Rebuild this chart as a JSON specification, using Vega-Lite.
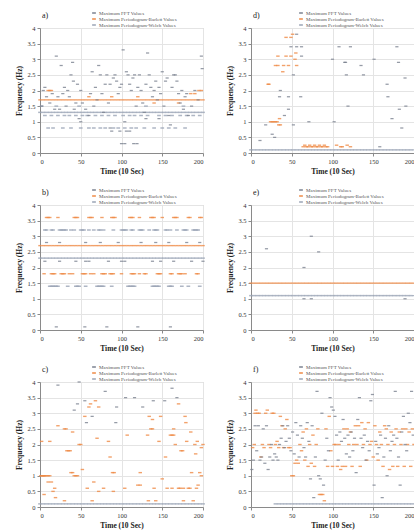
{
"$schema":"https://vega.github.io/schema/vega-lite/v6.json",
"padding":{"left":15,"top":9,"right":0,"bottom":0},
"background":"white",
"columns":2,
"bounds":"flush",
"spacing":{"column":48,"row":52},
"resolve":{"legend":{"color":"independent"}},
"config":{"font":"Liberation Serif","view":{"stroke":"#c4c4c4"},
"axis":{"labelFontSize":6.5,"titleFontSize":7.5,"titleFontWeight":"bold","gridColor":"#e4e4e4","domainColor":"#8a8a8a","tickColor":"#8a8a8a","labelColor":"#333333","titleColor":"#222222","tickSize":3,"labelPadding":2,"titlePadding":3},
"title":{"fontSize":8,"fontWeight":"normal","anchor":"start","frame":"group","offset":0,"dy":14,"dx":2,"color":"#222222"},
"legend":{"labelFontSize":5,"symbolSize":14,"rowPadding":0,"padding":0,"labelLimit":200,"labelColor":"#555555","symbolOpacity":1,"labelOffset":2}},
"data":{"format":{"type":"csv","parse":{"t":"number","f":"number"}},"values":"p,s,t,f\na,W,0,1.3\na,W,4,1.3\na,W,8,1.3\na,W,12,1.3\na,W,16,1.3\na,W,20,1.3\na,W,24,1.3\na,W,28,1.3\na,W,32,1.3\na,W,36,1.3\na,W,40,1.3\na,W,44,1.3\na,W,48,1.3\na,W,52,1.3\na,W,56,1.3\na,W,60,1.3\na,W,64,1.3\na,W,68,1.3\na,W,72,1.3\na,W,76,1.3\na,W,80,1.3\na,W,84,1.3\na,W,88,1.3\na,W,92,1.3\na,W,96,1.3\na,W,100,1.3\na,W,104,1.3\na,W,108,1.3\na,W,112,1.3\na,W,116,1.3\na,W,120,1.3\na,W,124,1.3\na,W,128,1.3\na,W,132,1.3\na,W,136,1.3\na,W,140,1.3\na,W,144,1.3\na,W,148,1.3\na,W,152,1.3\na,W,156,1.3\na,W,160,1.3\na,W,164,1.3\na,W,168,1.3\na,W,172,1.3\na,W,176,1.3\na,W,180,1.3\na,W,184,1.3\na,W,188,1.3\na,W,192,1.3\na,W,196,1.3\na,W,200,1.3\na,W,6,1.2\na,W,14,1.2\na,W,22,1.2\na,W,30,1.2\na,W,36,1.2\na,W,44,1.2\na,W,52,1.2\na,W,58,1.2\na,W,68,1.2\na,W,76,1.2\na,W,84,1.2\na,W,92,1.2\na,W,102,1.2\na,W,110,1.2\na,W,116,1.2\na,W,124,1.2\na,W,132,1.2\na,W,146,1.2\na,W,154,1.2\na,W,162,1.2\na,W,172,1.2\na,W,180,1.2\na,W,188,1.2\na,W,196,1.2\na,W,10,0.8\na,W,16,0.8\na,W,28,0.8\na,W,38,0.8\na,W,50,0.8\na,W,60,0.8\na,W,66,0.8\na,W,74,0.8\na,W,80,0.8\na,W,90,0.8\na,W,96,0.8\na,W,104,0.8\na,W,112,0.8\na,W,118,0.8\na,W,128,0.8\na,W,140,0.8\na,W,150,0.8\na,W,158,0.8\na,W,166,0.8\na,W,178,0.8\na,W,2,1.5\na,W,20,1.5\na,W,48,1.5\na,W,130,1.5\na,W,176,1.5\na,B,0,1.7\na,B,4,1.7\na,B,8,1.7\na,B,12,1.7\na,B,16,1.7\na,B,20,1.7\na,B,24,1.7\na,B,28,1.7\na,B,32,1.7\na,B,36,1.7\na,B,40,1.7\na,B,44,1.7\na,B,48,1.7\na,B,52,1.7\na,B,56,1.7\na,B,60,1.7\na,B,64,1.7\na,B,68,1.7\na,B,72,1.7\na,B,76,1.7\na,B,80,1.7\na,B,84,1.7\na,B,88,1.7\na,B,92,1.7\na,B,96,1.7\na,B,100,1.7\na,B,104,1.7\na,B,108,1.7\na,B,112,1.7\na,B,116,1.7\na,B,120,1.7\na,B,124,1.7\na,B,128,1.7\na,B,132,1.7\na,B,136,1.7\na,B,140,1.7\na,B,144,1.7\na,B,148,1.7\na,B,152,1.7\na,B,156,1.7\na,B,160,1.7\na,B,164,1.7\na,B,168,1.7\na,B,172,1.7\na,B,176,1.7\na,B,180,1.7\na,B,184,1.7\na,B,188,1.7\na,B,192,1.7\na,B,196,1.7\na,B,200,1.7\na,B,10,2.0\na,B,12,2.0\na,B,14,2.0\na,B,185,1.9\na,B,190,1.9\na,B,195,2.0\na,B,198,2.0\na,B,60,1.8\na,B,88,1.8\na,B,120,1.8\na,B,140,1.6\na,B,170,1.6\na,F,2,1.5\na,F,4,2.0\na,F,6,2.1\na,F,8,1.8\na,F,12,1.6\na,F,15,1.9\na,F,18,1.4\na,F,20,3.1\na,F,22,1.8\na,F,24,1.4\na,F,26,2.8\na,F,28,1.9\na,F,30,2.1\na,F,32,1.5\na,F,34,2.0\na,F,36,1.8\na,F,38,2.5\na,F,40,2.9\na,F,41,2.3\na,F,42,1.4\na,F,44,1.6\na,F,46,2.2\na,F,48,1.1\na,F,50,2.0\na,F,52,1.6\na,F,56,1.4\na,F,60,1.2\na,F,62,1.9\na,F,64,2.6\na,F,66,1.5\na,F,68,2.1\na,F,70,1.7\na,F,72,2.8\na,F,74,2.5\na,F,76,1.9\na,F,78,1.3\na,F,80,2.2\na,F,82,2.5\na,F,84,1.6\na,F,86,2.2\na,F,88,0.7\na,F,90,2.4\na,F,92,2.5\na,F,94,2.3\na,F,96,1.9\na,F,98,2.1\na,F,100,2.2\na,F,102,3.3\na,F,104,1.0\na,F,106,2.6\na,F,108,2.5\na,F,110,2.2\na,F,112,2.0\na,F,114,2.4\na,F,116,2.5\na,F,118,1.5\na,F,120,2.1\na,F,122,2.5\na,F,124,2.0\na,F,126,1.6\na,F,128,1.3\na,F,130,2.2\na,F,132,3.2\na,F,134,2.5\na,F,136,2.1\na,F,138,1.8\na,F,140,2.0\na,F,142,2.3\na,F,144,1.7\na,F,146,2.1\na,F,148,1.9\na,F,150,2.6\na,F,152,1.5\na,F,154,2.3\na,F,156,2.4\na,F,158,1.2\na,F,160,0.9\na,F,162,2.1\na,F,164,2.5\na,F,166,2.5\na,F,168,2.3\na,F,170,1.9\na,F,172,1.6\na,F,174,2.0\na,F,176,1.4\na,F,178,1.8\na,F,180,1.9\na,F,182,1.2\na,F,186,1.5\na,F,190,2.0\na,F,194,1.7\na,F,198,3.1\na,F,199,2.7\na,F,100,0.3\na,F,104,0.3\na,F,115,0.3\na,F,119,0.3\na,F,98,0.7\na,F,106,0.7\na,F,110,0.7\na,F,86,0.8\na,F,50,1.0\na,F,130,1.1\na,F,146,1.1\nb,W,0,2.3\nb,W,4,2.3\nb,W,8,2.3\nb,W,12,2.3\nb,W,16,2.3\nb,W,20,2.3\nb,W,24,2.3\nb,W,28,2.3\nb,W,32,2.3\nb,W,36,2.3\nb,W,40,2.3\nb,W,44,2.3\nb,W,48,2.3\nb,W,52,2.3\nb,W,56,2.3\nb,W,60,2.3\nb,W,64,2.3\nb,W,68,2.3\nb,W,72,2.3\nb,W,76,2.3\nb,W,80,2.3\nb,W,84,2.3\nb,W,88,2.3\nb,W,92,2.3\nb,W,96,2.3\nb,W,100,2.3\nb,W,104,2.3\nb,W,108,2.3\nb,W,112,2.3\nb,W,116,2.3\nb,W,120,2.3\nb,W,124,2.3\nb,W,128,2.3\nb,W,132,2.3\nb,W,136,2.3\nb,W,140,2.3\nb,W,144,2.3\nb,W,148,2.3\nb,W,152,2.3\nb,W,156,2.3\nb,W,160,2.3\nb,W,164,2.3\nb,W,168,2.3\nb,W,172,2.3\nb,W,176,2.3\nb,W,180,2.3\nb,W,184,2.3\nb,W,188,2.3\nb,W,192,2.3\nb,W,196,2.3\nb,W,200,2.3\nb,W,6,3.2\nb,W,8,3.2\nb,W,14,3.2\nb,W,16,3.2\nb,W,24,3.2\nb,W,26,3.2\nb,W,28,3.2\nb,W,30,3.2\nb,W,32,3.2\nb,W,38,3.2\nb,W,42,3.2\nb,W,50,3.2\nb,W,52,3.2\nb,W,54,3.2\nb,W,60,3.2\nb,W,66,3.2\nb,W,72,3.2\nb,W,74,3.2\nb,W,78,3.2\nb,W,90,3.2\nb,W,100,3.2\nb,W,102,3.2\nb,W,104,3.2\nb,W,106,3.2\nb,W,112,3.2\nb,W,114,3.2\nb,W,122,3.2\nb,W,124,3.2\nb,W,126,3.2\nb,W,134,3.2\nb,W,140,3.2\nb,W,142,3.2\nb,W,144,3.2\nb,W,154,3.2\nb,W,156,3.2\nb,W,160,3.2\nb,W,168,3.2\nb,W,176,3.2\nb,W,178,3.2\nb,W,180,3.2\nb,W,188,3.2\nb,W,190,3.2\nb,W,192,3.2\nb,W,194,3.2\nb,W,12,1.4\nb,W,14,1.4\nb,W,16,1.4\nb,W,18,1.4\nb,W,20,1.4\nb,W,22,1.4\nb,W,34,1.4\nb,W,44,1.4\nb,W,46,1.4\nb,W,48,1.4\nb,W,56,1.4\nb,W,70,1.4\nb,W,72,1.4\nb,W,74,1.4\nb,W,76,1.4\nb,W,78,1.4\nb,W,88,1.4\nb,W,108,1.4\nb,W,110,1.4\nb,W,112,1.4\nb,W,114,1.4\nb,W,116,1.4\nb,W,138,1.4\nb,W,140,1.4\nb,W,142,1.4\nb,W,144,1.4\nb,W,146,1.4\nb,W,158,1.4\nb,W,160,1.4\nb,W,162,1.4\nb,W,174,1.4\nb,W,182,1.4\nb,W,196,1.4\nb,B,0,2.7\nb,B,4,2.7\nb,B,8,2.7\nb,B,12,2.7\nb,B,16,2.7\nb,B,20,2.7\nb,B,24,2.7\nb,B,28,2.7\nb,B,32,2.7\nb,B,36,2.7\nb,B,40,2.7\nb,B,44,2.7\nb,B,48,2.7\nb,B,52,2.7\nb,B,56,2.7\nb,B,60,2.7\nb,B,64,2.7\nb,B,68,2.7\nb,B,72,2.7\nb,B,76,2.7\nb,B,80,2.7\nb,B,84,2.7\nb,B,88,2.7\nb,B,92,2.7\nb,B,96,2.7\nb,B,100,2.7\nb,B,104,2.7\nb,B,108,2.7\nb,B,112,2.7\nb,B,116,2.7\nb,B,120,2.7\nb,B,124,2.7\nb,B,128,2.7\nb,B,132,2.7\nb,B,136,2.7\nb,B,140,2.7\nb,B,144,2.7\nb,B,148,2.7\nb,B,152,2.7\nb,B,156,2.7\nb,B,160,2.7\nb,B,164,2.7\nb,B,168,2.7\nb,B,172,2.7\nb,B,176,2.7\nb,B,180,2.7\nb,B,184,2.7\nb,B,188,2.7\nb,B,192,2.7\nb,B,196,2.7\nb,B,200,2.7\nb,B,8,3.6\nb,B,10,3.6\nb,B,12,3.6\nb,B,22,3.6\nb,B,42,3.6\nb,B,44,3.6\nb,B,46,3.6\nb,B,60,3.6\nb,B,62,3.6\nb,B,64,3.6\nb,B,76,3.6\nb,B,88,3.6\nb,B,90,3.6\nb,B,92,3.6\nb,B,110,3.6\nb,B,112,3.6\nb,B,114,3.6\nb,B,122,3.6\nb,B,136,3.6\nb,B,138,3.6\nb,B,140,3.6\nb,B,150,3.6\nb,B,164,3.6\nb,B,166,3.6\nb,B,168,3.6\nb,B,182,3.6\nb,B,184,3.6\nb,B,196,3.6\nb,B,198,3.6\nb,B,5,1.8\nb,B,14,1.8\nb,B,16,1.8\nb,B,18,1.8\nb,B,26,1.8\nb,B,28,1.8\nb,B,30,1.8\nb,B,36,1.8\nb,B,40,1.8\nb,B,52,1.8\nb,B,54,1.8\nb,B,56,1.8\nb,B,62,1.8\nb,B,66,1.8\nb,B,76,1.8\nb,B,78,1.8\nb,B,80,1.8\nb,B,86,1.8\nb,B,88,1.8\nb,B,90,1.8\nb,B,100,1.8\nb,B,112,1.8\nb,B,114,1.8\nb,B,116,1.8\nb,B,122,1.8\nb,B,128,1.8\nb,B,130,1.8\nb,B,144,1.8\nb,B,146,1.8\nb,B,148,1.8\nb,B,160,1.8\nb,B,162,1.8\nb,B,170,1.8\nb,B,172,1.8\nb,B,174,1.8\nb,B,178,1.8\nb,B,192,1.8\nb,B,194,1.8\nb,F,8,2.8\nb,F,24,2.8\nb,F,56,2.8\nb,F,74,2.8\nb,F,96,2.8\nb,F,124,2.8\nb,F,142,2.8\nb,F,158,2.8\nb,F,180,2.8\nb,F,196,2.8\nb,F,6,2.2\nb,F,24,2.2\nb,F,44,2.2\nb,F,56,2.2\nb,F,60,2.2\nb,F,84,2.2\nb,F,100,2.2\nb,F,104,2.2\nb,F,138,2.2\nb,F,148,2.2\nb,F,164,2.2\nb,F,186,2.2\nb,F,200,2.2\nb,F,20,0.1\nb,F,55,0.1\nb,F,82,0.1\nb,F,120,0.1\nb,F,160,0.1\nc,W,0,0.1\nc,W,4,0.1\nc,W,8,0.1\nc,W,12,0.1\nc,W,16,0.1\nc,W,20,0.1\nc,W,24,0.1\nc,W,28,0.1\nc,W,32,0.1\nc,W,36,0.1\nc,W,40,0.1\nc,W,44,0.1\nc,W,48,0.1\nc,W,52,0.1\nc,W,56,0.1\nc,W,60,0.1\nc,W,64,0.1\nc,W,68,0.1\nc,W,72,0.1\nc,W,76,0.1\nc,W,80,0.1\nc,W,84,0.1\nc,W,88,0.1\nc,W,92,0.1\nc,W,96,0.1\nc,W,100,0.1\nc,W,104,0.1\nc,W,108,0.1\nc,W,112,0.1\nc,W,116,0.1\nc,W,120,0.1\nc,W,124,0.1\nc,W,128,0.1\nc,W,132,0.1\nc,W,136,0.1\nc,W,140,0.1\nc,W,144,0.1\nc,W,148,0.1\nc,W,152,0.1\nc,W,156,0.1\nc,W,160,0.1\nc,W,164,0.1\nc,W,168,0.1\nc,W,172,0.1\nc,W,176,0.1\nc,W,180,0.1\nc,W,184,0.1\nc,W,188,0.1\nc,W,192,0.1\nc,W,196,0.1\nc,W,200,0.1\nc,B,1,1.0\nc,B,2,1.0\nc,B,3,1.0\nc,B,4,1.0\nc,B,5,1.0\nc,B,6,1.0\nc,B,8,1.0\nc,B,10,1.0\nc,B,12,1.0\nc,B,2,2.1\nc,B,12,2.1\nc,B,5,0.4\nc,B,10,0.8\nc,B,14,0.8\nc,B,16,0.5\nc,B,18,0.6\nc,B,19,0.3\nc,B,22,2.6\nc,B,30,2.5\nc,B,32,2.5\nc,B,33,1.8\nc,B,35,1.8\nc,B,37,1.8\nc,B,30,0.2\nc,B,38,1.1\nc,B,40,1.1\nc,B,42,1.0\nc,B,44,1.0\nc,B,46,1.0\nc,B,40,2.4\nc,B,48,2.0\nc,B,50,2.0\nc,B,52,1.2\nc,B,55,2.9\nc,B,60,3.2\nc,B,62,3.3\nc,B,58,0.6\nc,B,64,0.2\nc,B,66,0.8\nc,B,68,3.4\nc,B,70,2.2\nc,B,72,3.2\nc,B,72,0.5\nc,B,78,0.6\nc,B,84,2.1\nc,B,86,1.6\nc,B,89,1.1\nc,B,91,1.1\nc,B,90,0.5\nc,B,104,0.6\nc,B,107,2.3\nc,B,120,0.7\nc,B,123,0.7\nc,B,123,1.1\nc,B,132,2.3\nc,B,134,2.9\nc,B,133,0.2\nc,B,136,2.5\nc,B,138,2.5\nc,B,138,2.8\nc,B,140,0.6\nc,B,146,2.1\nc,B,148,2.9\nc,B,142,0.2\nc,B,150,0.9\nc,B,154,1.6\nc,B,156,0.6\nc,B,160,2.3\nc,B,162,2.3\nc,B,164,2.3\nc,B,164,2.5\nc,B,162,0.6\nc,B,166,2.0\nc,B,170,3.3\nc,B,170,0.6\nc,B,172,0.6\nc,B,173,1.8\nc,B,175,1.8\nc,B,176,0.6\nc,B,176,0.2\nc,B,178,2.9\nc,B,179,2.7\nc,B,180,2.1\nc,B,182,0.6\nc,B,184,0.6\nc,B,186,1.1\nc,B,185,2.4\nc,B,188,0.2\nc,B,190,2.0\nc,B,191,1.7\nc,B,193,2.1\nc,B,194,0.7\nc,B,192,0.6\nc,B,196,1.1\nc,B,198,1.0\nc,B,198,1.9\nc,B,200,2.0\nc,F,22,3.9\nc,F,48,4.0\nc,F,80,3.7\nc,F,94,3.2\nc,F,105,3.5\nc,F,116,3.5\nc,F,126,3.2\nc,F,162,3.8\nc,F,168,3.5\nc,F,153,3.4\nc,F,64,2.9\nc,F,93,2.7\nc,F,57,2.7\nc,F,139,3.4\nc,F,46,3.3\nc,F,42,3.1\nc,F,55,3.4\nd,W,0,0.1\nd,W,4,0.1\nd,W,8,0.1\nd,W,12,0.1\nd,W,16,0.1\nd,W,20,0.1\nd,W,24,0.1\nd,W,28,0.1\nd,W,32,0.1\nd,W,36,0.1\nd,W,40,0.1\nd,W,44,0.1\nd,W,48,0.1\nd,W,52,0.1\nd,W,56,0.1\nd,W,60,0.1\nd,W,64,0.1\nd,W,68,0.1\nd,W,72,0.1\nd,W,76,0.1\nd,W,80,0.1\nd,W,84,0.1\nd,W,88,0.1\nd,W,92,0.1\nd,W,96,0.1\nd,W,100,0.1\nd,W,104,0.1\nd,W,108,0.1\nd,W,112,0.1\nd,W,116,0.1\nd,W,120,0.1\nd,W,124,0.1\nd,W,128,0.1\nd,W,132,0.1\nd,W,136,0.1\nd,W,140,0.1\nd,W,144,0.1\nd,W,148,0.1\nd,W,152,0.1\nd,W,156,0.1\nd,W,160,0.1\nd,W,164,0.1\nd,W,168,0.1\nd,W,172,0.1\nd,W,176,0.1\nd,W,180,0.1\nd,W,184,0.1\nd,W,188,0.1\nd,W,192,0.1\nd,W,196,0.1\nd,W,200,0.1\nd,B,21,2.2\nd,B,22,2.2\nd,B,24,1.0\nd,B,26,1.0\nd,B,28,1.0\nd,B,30,1.0\nd,B,32,1.0\nd,B,34,0.9\nd,B,30,2.8\nd,B,33,3.1\nd,B,33,2.8\nd,B,35,1.1\nd,B,36,0.9\nd,B,39,2.6\nd,B,40,2.8\nd,B,43,3.7\nd,B,43,3.1\nd,B,46,2.8\nd,B,49,3.7\nd,B,49,3.1\nd,B,51,3.8\nd,B,54,3.0\nd,B,55,3.2\nd,B,56,2.8\nd,B,64,0.2\nd,B,66,0.25\nd,B,68,0.2\nd,B,70,0.2\nd,B,72,0.25\nd,B,74,0.2\nd,B,76,0.2\nd,B,78,0.25\nd,B,80,0.2\nd,B,82,0.2\nd,B,84,0.25\nd,B,86,0.2\nd,B,88,0.2\nd,B,90,0.25\nd,B,92,0.2\nd,B,94,0.2\nd,B,105,0.25\nd,B,110,0.2\nd,B,112,0.2\nd,B,118,0.25\nd,B,122,0.2\nd,F,11,0.4\nd,F,18,0.9\nd,F,26,0.6\nd,F,29,0.5\nd,F,35,1.8\nd,F,36,2.0\nd,F,41,1.2\nd,F,46,1.8\nd,F,46,1.4\nd,F,49,3.4\nd,F,52,0.9\nd,F,52,2.5\nd,F,56,3.8\nd,F,56,3.4\nd,F,61,1.8\nd,F,62,3.1\nd,F,62,3.4\nd,F,71,1.0\nd,F,100,3.0\nd,F,102,1.0\nd,F,108,3.4\nd,F,115,2.9\nd,F,116,2.9\nd,F,117,2.5\nd,F,119,1.5\nd,F,122,3.4\nd,F,135,2.8\nd,F,138,2.5\nd,F,151,3.0\nd,F,158,0.2\nd,F,167,2.2\nd,F,168,1.8\nd,F,173,1.1\nd,F,179,3.4\nd,F,181,2.9\nd,F,182,1.4\nd,F,185,0.8\nd,F,189,2.4\nd,F,190,1.5\ne,W,0,1.1\ne,W,4,1.1\ne,W,8,1.1\ne,W,12,1.1\ne,W,16,1.1\ne,W,20,1.1\ne,W,24,1.1\ne,W,28,1.1\ne,W,32,1.1\ne,W,36,1.1\ne,W,40,1.1\ne,W,44,1.1\ne,W,48,1.1\ne,W,52,1.1\ne,W,56,1.1\ne,W,60,1.1\ne,W,64,1.1\ne,W,68,1.1\ne,W,72,1.1\ne,W,76,1.1\ne,W,80,1.1\ne,W,84,1.1\ne,W,88,1.1\ne,W,92,1.1\ne,W,96,1.1\ne,W,100,1.1\ne,W,104,1.1\ne,W,108,1.1\ne,W,112,1.1\ne,W,116,1.1\ne,W,120,1.1\ne,W,124,1.1\ne,W,128,1.1\ne,W,132,1.1\ne,W,136,1.1\ne,W,140,1.1\ne,W,144,1.1\ne,W,148,1.1\ne,W,152,1.1\ne,W,156,1.1\ne,W,160,1.1\ne,W,164,1.1\ne,W,168,1.1\ne,W,172,1.1\ne,W,176,1.1\ne,W,180,1.1\ne,W,184,1.1\ne,W,188,1.1\ne,W,192,1.1\ne,W,196,1.1\ne,W,200,1.1\ne,B,0,1.5\ne,B,4,1.5\ne,B,8,1.5\ne,B,12,1.5\ne,B,16,1.5\ne,B,20,1.5\ne,B,24,1.5\ne,B,28,1.5\ne,B,32,1.5\ne,B,36,1.5\ne,B,40,1.5\ne,B,44,1.5\ne,B,48,1.5\ne,B,52,1.5\ne,B,56,1.5\ne,B,60,1.5\ne,B,64,1.5\ne,B,68,1.5\ne,B,72,1.5\ne,B,76,1.5\ne,B,80,1.5\ne,B,84,1.5\ne,B,88,1.5\ne,B,92,1.5\ne,B,96,1.5\ne,B,100,1.5\ne,B,104,1.5\ne,B,108,1.5\ne,B,112,1.5\ne,B,116,1.5\ne,B,120,1.5\ne,B,124,1.5\ne,B,128,1.5\ne,B,132,1.5\ne,B,136,1.5\ne,B,140,1.5\ne,B,144,1.5\ne,B,148,1.5\ne,B,152,1.5\ne,B,156,1.5\ne,B,160,1.5\ne,B,164,1.5\ne,B,168,1.5\ne,B,172,1.5\ne,B,176,1.5\ne,B,180,1.5\ne,B,184,1.5\ne,B,188,1.5\ne,B,192,1.5\ne,B,196,1.5\ne,B,200,1.5\ne,F,19,2.6\ne,F,65,2.0\ne,F,74,3.0\ne,F,83,2.5\ne,F,65,1.0\ne,F,74,1.0\ne,F,189,1.0\nf,W,30,0.1\nf,W,34,0.1\nf,W,38,0.1\nf,W,42,0.1\nf,W,46,0.1\nf,W,50,0.1\nf,W,54,0.1\nf,W,58,0.1\nf,W,62,0.1\nf,W,66,0.1\nf,W,70,0.1\nf,W,74,0.1\nf,W,78,0.1\nf,W,82,0.1\nf,W,86,0.1\nf,W,90,0.1\nf,W,94,0.1\nf,W,98,0.1\nf,W,102,0.1\nf,W,106,0.1\nf,W,110,0.1\nf,W,114,0.1\nf,W,118,0.1\nf,W,122,0.1\nf,W,126,0.1\nf,W,130,0.1\nf,W,134,0.1\nf,W,138,0.1\nf,W,142,0.1\nf,W,146,0.1\nf,W,150,0.1\nf,W,154,0.1\nf,W,158,0.1\nf,W,162,0.1\nf,W,166,0.1\nf,W,170,0.1\nf,W,174,0.1\nf,W,178,0.1\nf,W,182,0.1\nf,W,186,0.1\nf,W,190,0.1\nf,W,194,0.1\nf,W,198,0.1\nf,B,2,1.9\nf,B,4,2.0\nf,B,5,3.0\nf,B,6,3.1\nf,B,8,3.0\nf,B,10,3.0\nf,B,12,1.6\nf,B,14,2.0\nf,B,16,1.9\nf,B,18,3.0\nf,B,20,3.1\nf,B,22,2.0\nf,B,24,1.9\nf,B,26,3.0\nf,B,28,3.0\nf,B,30,2.0\nf,B,32,2.1\nf,B,34,1.9\nf,B,36,2.9\nf,B,38,2.6\nf,B,40,1.9\nf,B,42,2.5\nf,B,44,2.8\nf,B,46,1.9\nf,B,48,1.9\nf,B,50,1.0\nf,B,52,1.0\nf,B,54,1.4\nf,B,56,1.5\nf,B,58,1.4\nf,B,60,2.0\nf,B,62,1.8\nf,B,64,2.4\nf,B,66,1.5\nf,B,68,2.5\nf,B,70,1.3\nf,B,72,2.0\nf,B,74,1.4\nf,B,76,2.3\nf,B,78,1.3\nf,B,80,2.0\nf,B,82,2.5\nf,B,84,0.4\nf,B,86,0.4\nf,B,88,0.4\nf,B,90,0.2\nf,B,92,2.5\nf,B,94,1.3\nf,B,96,2.9\nf,B,98,1.8\nf,B,100,1.3\nf,B,102,2.0\nf,B,104,2.0\nf,B,106,1.3\nf,B,108,2.0\nf,B,110,1.2\nf,B,112,1.3\nf,B,114,2.5\nf,B,116,1.3\nf,B,118,2.5\nf,B,120,2.0\nf,B,122,2.4\nf,B,124,1.3\nf,B,126,2.0\nf,B,128,2.6\nf,B,130,2.0\nf,B,132,2.6\nf,B,134,1.3\nf,B,136,2.7\nf,B,138,2.0\nf,B,140,2.5\nf,B,142,1.5\nf,B,144,2.7\nf,B,146,2.0\nf,B,148,2.1\nf,B,150,1.6\nf,B,152,2.6\nf,B,154,2.0\nf,B,156,1.5\nf,B,158,2.4\nf,B,160,2.0\nf,B,162,1.3\nf,B,164,2.6\nf,B,166,2.5\nf,B,168,2.0\nf,B,170,1.2\nf,B,172,2.4\nf,B,174,1.3\nf,B,176,2.0\nf,B,178,2.5\nf,B,180,1.3\nf,B,182,2.4\nf,B,184,2.0\nf,B,186,2.5\nf,B,188,1.3\nf,B,190,2.5\nf,B,192,2.0\nf,B,194,2.4\nf,B,196,1.3\nf,B,198,2.5\nf,B,200,2.0\nf,F,1,1.2\nf,F,3,1.5\nf,F,5,2.6\nf,F,7,1.8\nf,F,9,2.6\nf,F,11,1.5\nf,F,13,1.6\nf,F,15,2.5\nf,F,17,1.4\nf,F,19,2.6\nf,F,21,1.2\nf,F,23,1.6\nf,F,25,2.0\nf,F,27,1.5\nf,F,29,1.7\nf,F,31,1.6\nf,F,33,1.5\nf,F,35,2.0\nf,F,37,2.2\nf,F,39,2.6\nf,F,41,1.9\nf,F,43,2.1\nf,F,45,2.6\nf,F,47,2.2\nf,F,49,1.8\nf,F,51,2.4\nf,F,53,1.7\nf,F,55,2.7\nf,F,57,2.3\nf,F,59,1.6\nf,F,61,2.6\nf,F,63,2.2\nf,F,65,1.9\nf,F,67,1.6\nf,F,69,2.7\nf,F,71,2.1\nf,F,73,0.9\nf,F,75,2.6\nf,F,77,0.3\nf,F,79,1.6\nf,F,81,3.7\nf,F,83,1.0\nf,F,85,0.9\nf,F,87,3.0\nf,F,89,0.7\nf,F,91,1.5\nf,F,93,2.2\nf,F,95,1.8\nf,F,97,3.5\nf,F,99,3.2\nf,F,101,3.1\nf,F,103,2.9\nf,F,105,2.3\nf,F,107,1.5\nf,F,109,2.4\nf,F,111,2.1\nf,F,113,2.8\nf,F,115,2.2\nf,F,117,1.7\nf,F,119,2.3\nf,F,121,1.6\nf,F,123,2.4\nf,F,125,1.8\nf,F,127,2.2\nf,F,129,1.1\nf,F,131,2.8\nf,F,133,3.5\nf,F,135,2.2\nf,F,137,1.9\nf,F,139,2.3\nf,F,141,1.5\nf,F,143,2.1\nf,F,145,1.8\nf,F,147,3.4\nf,F,149,3.6\nf,F,151,0.7\nf,F,153,2.1\nf,F,155,1.7\nf,F,157,1.9\nf,F,159,2.3\nf,F,161,0.3\nf,F,163,1.6\nf,F,165,2.2\nf,F,167,1.0\nf,F,169,2.6\nf,F,171,1.8\nf,F,173,2.1\nf,F,175,2.3\nf,F,177,3.7\nf,F,179,2.2\nf,F,181,1.6\nf,F,183,0.7\nf,F,185,2.4\nf,F,187,2.9\nf,F,189,2.0\nf,F,191,1.8\nf,F,193,3.0\nf,F,195,2.7\nf,F,197,3.7\nf,F,199,2.3"},
"concat":[
{"title":{"text":"a)"},"transform":[{"filter":"datum.p=='a'"}],"width":163,"height":125,"mark":{"type":"point","filled":true,"shape":"M-1,-0.4L1,-0.4L1,0.4L-1,0.4Z","opacity":0.8},
"encoding":{"x":{"field":"t","type":"quantitative","scale":{"domain":[0,200]},"axis":{"values":[0,50,100,150,200],"title":"Time (10 Sec)"}},"y":{"field":"f","type":"quantitative","scale":{"domain":[0,4]},"axis":{"values":[0,0.5,1,1.5,2,2.5,3,3.5,4],"format":"~g","title":"Frequency (Hz)"}},"color":{"field":"s","type":"nominal","scale":{"domain":["F","B","W"],"range":["#7a8290","#EF8A45","#9aa4b5"]},"legend":{"orient":"none","legendX":51,"legendY":-18,"title":null,"direction":"vertical","labelExpr":"datum.value=='F'?'Maximum FFT Values':datum.value=='B'?'Maximum Periodogram-Barlett Values':'Maximum Periodogram-Welch Values'"}},"size":{"field":"s","type":"nominal","scale":{"domain":["F","B","W"],"range":[10,14,12]},"legend":null}}},
{"title":{"text":"d)"},"transform":[{"filter":"datum.p=='d'"}],"width":163,"height":125,"mark":{"type":"point","filled":true,"shape":"M-1,-0.4L1,-0.4L1,0.4L-1,0.4Z","opacity":0.8},
"encoding":{"x":{"field":"t","type":"quantitative","scale":{"domain":[0,200]},"axis":{"values":[0,50,100,150,200],"title":"Time (10 Sec)","labelFlush":true}},"y":{"field":"f","type":"quantitative","scale":{"domain":[0,4]},"axis":{"values":[0,0.5,1,1.5,2,2.5,3,3.5,4],"format":"~g","title":"Frequency (Hz)"}},"color":{"field":"s","type":"nominal","scale":{"domain":["F","B","W"],"range":["#7a8290","#EF8A45","#9aa4b5"]},"legend":{"orient":"none","legendX":47,"legendY":-18,"title":null,"direction":"vertical","labelExpr":"datum.value=='F'?'Maximum FFT Values':datum.value=='B'?'Maximum Periodogram-Barlett Values':'Maximum Periodogram-Welch Values'"}},"size":{"field":"s","type":"nominal","scale":{"domain":["F","B","W"],"range":[10,14,12]},"legend":null}}},
{"title":{"text":"b)"},"transform":[{"filter":"datum.p=='b'"}],"width":163,"height":125,"mark":{"type":"point","filled":true,"shape":"M-1,-0.4L1,-0.4L1,0.4L-1,0.4Z","opacity":0.8},
"encoding":{"x":{"field":"t","type":"quantitative","scale":{"domain":[0,200]},"axis":{"values":[0,50,100,150,200],"title":"Time (10 Sec)"}},"y":{"field":"f","type":"quantitative","scale":{"domain":[0,4]},"axis":{"values":[0,0.5,1,1.5,2,2.5,3,3.5,4],"format":"~g","title":"Frequency (Hz)"}},"color":{"field":"s","type":"nominal","scale":{"domain":["F","B","W"],"range":["#7a8290","#EF8A45","#9aa4b5"]},"legend":{"orient":"none","legendX":51,"legendY":-18,"title":null,"direction":"vertical","labelExpr":"datum.value=='F'?'Maximum FFT Values':datum.value=='B'?'Maximum Periodogram-Barlett Values':'Maximum Periodogram-Welch Values'"}},"size":{"field":"s","type":"nominal","scale":{"domain":["F","B","W"],"range":[10,14,12]},"legend":null}}},
{"title":{"text":"e)"},"transform":[{"filter":"datum.p=='e'"}],"width":163,"height":125,"mark":{"type":"point","filled":true,"shape":"M-1,-0.4L1,-0.4L1,0.4L-1,0.4Z","opacity":0.8},
"encoding":{"x":{"field":"t","type":"quantitative","scale":{"domain":[0,200]},"axis":{"values":[0,50,100,150,200],"title":"Time (10 Sec)","labelFlush":true}},"y":{"field":"f","type":"quantitative","scale":{"domain":[0,4]},"axis":{"values":[0,0.5,1,1.5,2,2.5,3,3.5,4],"format":"~g","title":"Frequency (Hz)"}},"color":{"field":"s","type":"nominal","scale":{"domain":["F","B","W"],"range":["#7a8290","#EF8A45","#9aa4b5"]},"legend":{"orient":"none","legendX":47,"legendY":-18,"title":null,"direction":"vertical","labelExpr":"datum.value=='F'?'Maximum FFT Values':datum.value=='B'?'Maximum Periodogram-Barlett Values':'Maximum Periodogram-Welch Values'"}},"size":{"field":"s","type":"nominal","scale":{"domain":["F","B","W"],"range":[10,22,12]},"legend":null}}},
{"title":{"text":"c)"},"transform":[{"filter":"datum.p=='c'"}],"width":163,"height":125,"mark":{"type":"point","filled":true,"shape":"M-1,-0.4L1,-0.4L1,0.4L-1,0.4Z","opacity":0.8},
"encoding":{"x":{"field":"t","type":"quantitative","scale":{"domain":[0,200]},"axis":{"values":[0,50,100,150,200],"title":"Time (10 Sec)"}},"y":{"field":"f","type":"quantitative","scale":{"domain":[0,4]},"axis":{"values":[0,0.5,1,1.5,2,2.5,3,3.5,4],"format":"~g","title":"Frequency (Hz)"}},"color":{"field":"s","type":"nominal","scale":{"domain":["F","B","W"],"range":["#7a8290","#EF8A45","#9aa4b5"]},"legend":{"orient":"none","legendX":51,"legendY":-18,"title":null,"direction":"vertical","labelExpr":"datum.value=='F'?'Maximum FFT Values':datum.value=='B'?'Maximum Periodogram-Barlett Values':'Maximum Periodogram-Welch Values'"}},"size":{"field":"s","type":"nominal","scale":{"domain":["F","B","W"],"range":[10,14,12]},"legend":null}}},
{"title":{"text":"f)"},"transform":[{"filter":"datum.p=='f'"}],"width":163,"height":125,"mark":{"type":"point","filled":true,"shape":"M-1,-0.4L1,-0.4L1,0.4L-1,0.4Z","opacity":0.8},
"encoding":{"x":{"field":"t","type":"quantitative","scale":{"domain":[0,200]},"axis":{"values":[0,50,100,150,200],"title":"Time (10 Sec)","labelFlush":true}},"y":{"field":"f","type":"quantitative","scale":{"domain":[0,4]},"axis":{"values":[0,0.5,1,1.5,2,2.5,3,3.5,4],"format":"~g","title":"Frequency (Hz)"}},"color":{"field":"s","type":"nominal","scale":{"domain":["F","B","W"],"range":["#7a8290","#EF8A45","#9aa4b5"]},"legend":{"orient":"none","legendX":47,"legendY":-18,"title":null,"direction":"vertical","labelExpr":"datum.value=='F'?'Maximum FFT Values':datum.value=='B'?'Maximum Periodogram-Barlett Values':'Maximum Periodogram-Welch Values'"}},"size":{"field":"s","type":"nominal","scale":{"domain":["F","B","W"],"range":[10,14,12]},"legend":null}}}
]
}
